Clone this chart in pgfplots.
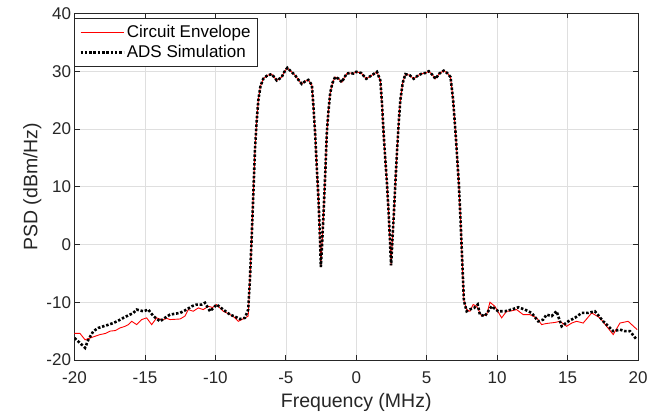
\documentclass[border=0pt]{standalone}
\usepackage{fontspec}
\setmainfont{Liberation Sans}
\usepackage{pgfplots}
\pgfplotsset{compat=1.18}
\definecolor{gridc}{RGB}{223,223,223}
\definecolor{axc}{RGB}{38,38,38}
\begin{document}
\begin{tikzpicture}
\begin{axis}[
  width=563.5pt, height=346.5pt, scale only axis,
  xmin=-20, xmax=20, ymin=-20, ymax=40,
  xtick={-20,-15,-10,-5,0,5,10,15,20},
  ytick={-20,-10,0,10,20,30,40},
  xticklabels={-20,-15,-10,-5,0,5,10,15,20},
  yticklabels={-20,-10,0,10,20,30,40},
  tick align=inside, major tick length=5pt,
  grid=major, grid style={gridc, line width=0.6pt},
  axis line style={axc, line width=0.7pt},
  tick style={axc, line width=0.7pt},
  ticklabel style={font=\fontsize{17}{20}\selectfont, text=axc},
  xticklabel style={yshift=-8pt},
  xlabel={Frequency (MHz)}, ylabel={PSD (dBm/Hz)},
  label style={font=\fontsize{19.5}{22}\selectfont, text=axc},
  xlabel style={yshift=-3pt},
  ylabel style={yshift=-2pt},
  legend style={at={(0,1)}, anchor=north west, yshift=-4.5pt, draw=axc, line width=0.5pt, fill=white,
    font=\fontsize{17}{20}\selectfont, inner xsep=4.5pt, inner ysep=4.5pt, row sep=1.5pt,
    nodes={inner ysep=2.5pt}},
  legend cell align=left,
  legend image code/.code={\draw[#1] (0pt,0pt) -- (43pt,0pt);},
]
\addplot[red, line width=0.9pt] coordinates {
(-20,-15.4) (-19.61,-15.4) (-19.25,-16.5) (-18.9,-16.2) (-18.55,-15.9) (-18.19,-15.6) (-17.8,-15.4) (-17.48,-15.0) (-17.1,-14.9) (-16.77,-14.45) (-16.45,-14.2) (-16.18,-13.87) (-15.94,-13.3) (-15.59,-13.87) (-15.23,-13.0) (-14.88,-12.7) (-14.52,-13.87) (-14.17,-12.7) (-13.95,-12.9) (-13.7,-13.0) (-13.45,-12.8) (-13.22,-13.0) (-12.85,-12.95) (-12.51,-12.9) (-12.16,-12.4) (-11.92,-11.27) (-11.57,-11.56) (-11.21,-10.98) (-10.86,-11.27) (-10.5,-10.7) (-10.2,-10.9) (-9.91,-10.4) (-9.44,-11.56) (-8.96,-12.14) (-8.65,-12.6) (-8.37,-13.3) (-7.9,-12.7) (-7.67,-12.4)
(-7.55,-6.2) (-7.43,0.8) (-7.31,8.5) (-7.19,16.4) (-7.07,21.3) (-6.95,25.0) (-6.8,27.4) (-6.6,28.7) (-6.3,29.3) (-6.0,29.5) (-5.8,28.9) (-5.64,28.4) (-5.45,28.7) (-5.29,29.0) (-5.1,29.9) (-4.89,30.6) (-4.6,29.9) (-4.34,29.3) (-4.1,28.5) (-3.87,27.8) (-3.6,28.3) (-3.4,28.5) (-3.15,27.6) (-3.05,24.3) (-2.92,19.3) (-2.8,13.3) (-2.68,7.8) (-2.58,1.4) (-2.51,-3.9) (-2.42,0.4) (-2.33,4.9) (-2.2,12.3) (-2.09,19.3) (-1.97,23.2) (-1.85,26.2) (-1.7,27.9) (-1.5,29.0) (-1.25,28.7) (-1.02,28.1) (-0.85,28.9) (-0.67,29.6) (-0.43,29.7) (-0.2,29.6) (0.0,29.9) (0.35,29.7) (0.71,28.7) (1.1,29.3) (1.47,29.9) (1.71,28.4) (1.83,24.3) (1.94,19.3) (2.06,14.8) (2.18,10.6) (2.3,5.4) (2.4,0.4) (2.47,-3.6) (2.56,0.4) (2.66,4.9) (2.78,10.8) (2.9,16.4) (3.02,21.3) (3.13,25.0) (3.3,28.0) (3.49,29.5) (3.8,29.3) (4.08,28.7) (4.4,29.3) (4.67,29.6) (4.9,29.7) (5.15,30.0) (5.4,29.4) (5.62,28.7) (5.9,29.6) (6.21,30.1) (6.45,29.7) (6.69,29.0) (6.87,25.2) (7.05,19.3) (7.17,14.8) (7.28,10.6) (7.4,4.4) (7.52,-2.7) (7.64,-9.7)
(7.84,-11.3) (8.07,-11.56) (8.3,-10.4) (8.55,-10.7) (8.9,-12.4) (9.26,-12.14) (9.49,-10.0) (9.84,-10.7) (10.32,-12.7) (10.67,-11.56) (11.0,-11.5) (11.38,-11.27) (11.85,-12.14) (12.33,-12.14) (12.8,-12.7) (13.16,-13.87) (13.45,-13.7) (13.75,-13.6) (14.1,-13.5) (14.46,-13.3) (14.93,-14.16) (15.3,-13.6) (15.64,-13.3) (16.11,-13.6) (16.71,-11.85) (17.3,-12.7) (17.77,-14.16) (18.24,-15.6) (18.72,-13.6) (19.3,-13.3) (19.94,-14.74)
};
\addlegendentry{Circuit Envelope}
\addplot[black, line width=2.6pt, dash pattern=on 2.5pt off 1.8pt] coordinates {
(-20,-16.2) (-19.61,-17.05) (-19.25,-17.9) (-19.02,-16.5) (-18.66,-15.0) (-18.31,-14.45) (-17.95,-14.16) (-17.6,-13.9) (-17.24,-13.6) (-16.9,-13.2) (-16.53,-12.7) (-16.2,-12.3) (-15.82,-11.85) (-15.59,-11.27) (-15.11,-11.56) (-14.76,-11.27) (-14.4,-12.4) (-13.93,-13.3) (-13.58,-12.7) (-13.22,-12.14) (-12.9,-12.0) (-12.51,-11.85) (-12.04,-11.27) (-11.68,-10.7) (-11.33,-10.4) (-10.97,-10.4) (-10.74,-10.1) (-10.38,-11.56) (-9.91,-10.4) (-9.44,-11.27) (-8.96,-12.14) (-8.6,-12.5) (-8.25,-12.9) (-7.9,-12.7) (-7.67,-11.27)
(-7.55,-6.2) (-7.43,0.8) (-7.31,8.5) (-7.19,16.4) (-7.07,21.3) (-6.95,25.0) (-6.8,27.4) (-6.6,28.7) (-6.3,29.3) (-6.0,29.5) (-5.8,28.9) (-5.64,28.4) (-5.45,28.7) (-5.29,29.0) (-5.1,29.9) (-4.89,30.6) (-4.6,29.9) (-4.34,29.3) (-4.1,28.5) (-3.87,27.8) (-3.6,28.3) (-3.4,28.5) (-3.15,27.6) (-3.05,24.3) (-2.92,19.3) (-2.8,13.3) (-2.68,7.8) (-2.58,1.4) (-2.51,-3.9) (-2.42,0.4) (-2.33,4.9) (-2.2,12.3) (-2.09,19.3) (-1.97,23.2) (-1.85,26.2) (-1.7,27.9) (-1.5,29.0) (-1.25,28.7) (-1.02,28.1) (-0.85,28.9) (-0.67,29.6) (-0.43,29.7) (-0.2,29.6) (0.0,29.9) (0.35,29.7) (0.71,28.7) (1.1,29.3) (1.47,29.9) (1.71,28.4) (1.83,24.3) (1.94,19.3) (2.06,14.8) (2.18,10.6) (2.3,5.4) (2.4,0.4) (2.47,-3.6) (2.56,0.4) (2.66,4.9) (2.78,10.8) (2.9,16.4) (3.02,21.3) (3.13,25.0) (3.3,28.0) (3.49,29.5) (3.8,29.3) (4.08,28.7) (4.4,29.3) (4.67,29.6) (4.9,29.7) (5.15,30.0) (5.4,29.4) (5.62,28.7) (5.9,29.6) (6.21,30.1) (6.45,29.7) (6.69,29.0) (6.87,25.2) (7.05,19.3) (7.17,14.8) (7.28,10.6) (7.4,4.4) (7.52,-2.7) (7.64,-9.7)
(7.84,-11.56) (8.1,-11.2) (8.37,-10.98) (8.62,-10.4) (8.78,-12.14) (9.13,-12.4) (9.61,-10.7) (10.08,-11.56) (10.55,-11.56) (11.03,-11.27) (11.5,-10.87) (11.97,-11.27) (12.45,-11.85) (12.92,-13.3) (13.27,-13.0) (13.51,-12.14) (13.87,-12.4) (14.22,-11.56) (14.58,-14.16) (15.05,-13.3) (15.52,-12.7) (16.0,-11.85) (16.47,-11.85) (16.94,-11.56) (17.53,-13.3) (17.89,-14.16) (18.24,-15.0) (18.72,-14.74) (19.07,-15.0) (19.43,-15.0) (19.9,-16.47)
};
\addlegendentry{ADS Simulation}
\end{axis}
\path ([xshift=-74.5pt,yshift=-58pt]current axis.south west) rectangle ([xshift=28pt,yshift=13.5pt]current axis.north east);
\end{tikzpicture}
\end{document}
